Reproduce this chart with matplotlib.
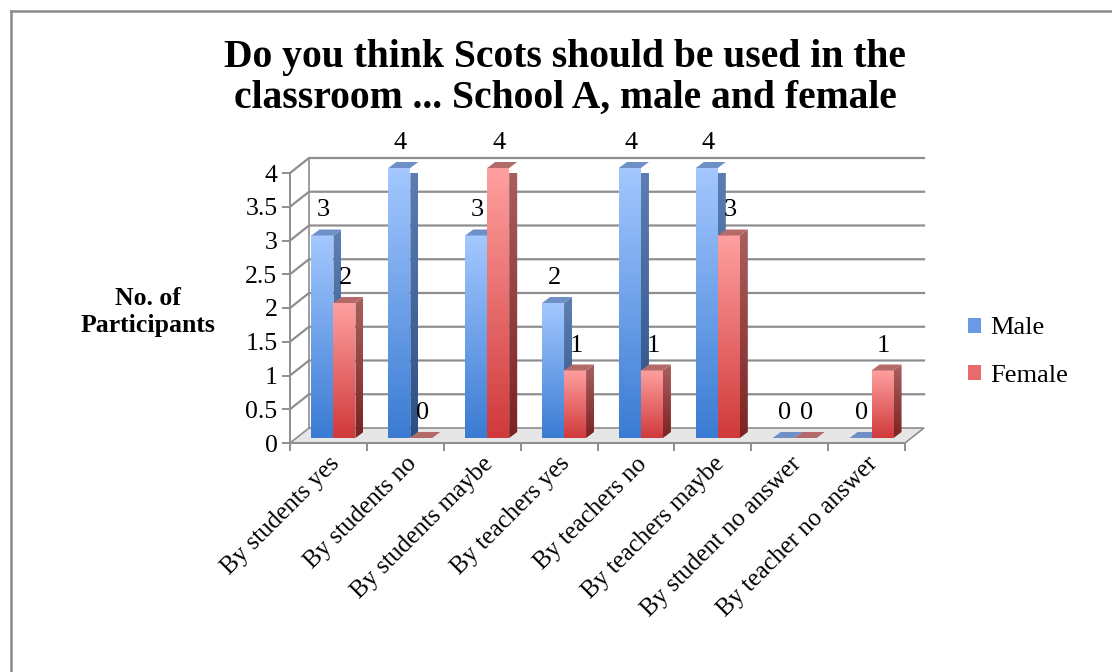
import numpy as np
import matplotlib
matplotlib.use("Agg")
import matplotlib.pyplot as plt
from matplotlib.colors import LinearSegmentedColormap
from matplotlib.patches import Polygon, Patch

plt.rcParams['font.family'] = ['Liberation Serif', 'DejaVu Serif']

categories = ["By students yes", "By students no", "By students maybe",
              "By teachers yes", "By teachers no", "By teachers maybe",
              "By student no answer", "By teacher no answer"]
male = [3, 4, 3, 2, 4, 4, 0, 0]
female = [2, 0, 4, 1, 1, 3, 0, 1]
title = "Do you think Scots should be used in the\nclassroom ... School A, male and female"

W, H = 1112, 672
fig = plt.figure(figsize=(W / 100, H / 100), dpi=100)

# plot area in pixels: front floor from x=290..905, y=0 at 443, y=4 at 173
L, R, B0, T4 = 290, 905, 443, 173
ax = fig.add_axes([L / W, 1 - B0 / H, (R - L) / W, (B0 - T4) / H])
n = len(categories)
ymax = 4
px_x = n / (R - L)        # data units per pixel
px_y = ymax / (B0 - T4)

grid_c = "#8e8e8e"
# depth of the back wall and of each bar, in pixels
wall_dx, wall_dy = 19 * px_x, 15 * px_y
front_dx, front_dy = 5 * px_x, 5 * px_y
bar_dx, bar_dy = 8 * px_x, 6 * px_y
bar_w = 22 * px_x

# floor
floor = Polygon([(0, 0), (n, 0), (n + wall_dx, wall_dy), (wall_dx, wall_dy)],
                closed=True, facecolor="#e6e6e6", edgecolor=grid_c, lw=1.2,
                clip_on=False, zorder=1)
ax.add_patch(floor)

# back wall grid lines
for y in np.arange(0.5, ymax + 0.01, 0.5):
    ax.plot([0, wall_dx, n + wall_dx], [y, y + wall_dy, y + wall_dy],
            color=grid_c, lw=1.6, clip_on=False, zorder=1)
ax.plot([wall_dx, wall_dx], [wall_dy, ymax + wall_dy], color=grid_c, lw=1.2,
        clip_on=False, zorder=1)


def grad(c_bot, c_top):
    return LinearSegmentedColormap.from_list("g", [c_bot, c_top])


g = np.linspace(0, 1, 256).reshape(-1, 1)
styles = {
    "blue": dict(front=grad("#3a7bd3", "#a4c8ff"), side=grad("#2a4f86", "#5e80b4"), top="#6f90c6"),
    "red": dict(front=grad("#d0393a", "#ffa0a0"), side=grad("#7c2222", "#aa6060"), top="#b56a6a"),
}


def draw_bar(x0, v, st):
    x1 = x0 + bar_w
    y0 = front_dy
    y1 = front_dy + v
    if v > 0:
        ax.imshow(g, origin="lower", aspect="auto", cmap=st["front"],
                  extent=(x0, x1, y0, y1), zorder=3, clip_on=False)
        side = Polygon([(x1, y0), (x1, y1), (x1 + bar_dx, y1 + bar_dy), (x1 + bar_dx, y0 + bar_dy)],
                       closed=True, facecolor="none", edgecolor="none", transform=ax.transData)
        ax.add_patch(side)
        im2 = ax.imshow(g, origin="lower", aspect="auto", cmap=st["side"],
                        extent=(x1, x1 + bar_dx, y0, y1 + bar_dy), zorder=3)
        im2.set_clip_path(side)
    ax.add_patch(Polygon([(x0, y1), (x1, y1), (x1 + bar_dx, y1 + bar_dy), (x0 + bar_dx, y1 + bar_dy)],
                         closed=True, facecolor=st["top"], edgecolor="none", zorder=3,
                         clip_on=False))


label_kw = dict(textcoords="offset pixels", ha="center", va="center",
                fontsize=19, zorder=5, annotation_clip=False)
for i in range(n):
    xb = i + 0.5 - bar_w + front_dx
    xr = i + 0.5 + front_dx
    draw_bar(xb, male[i], styles["blue"])
    draw_bar(xr, female[i], styles["red"])
    ax.annotate(str(male[i]), (xb + bar_w / 2, male[i] + front_dy), xytext=(1, 25), **label_kw)
    ax.annotate(str(female[i]), (xr + bar_w / 2, female[i] + front_dy), xytext=(1, 25), **label_kw)

ax.set_xlim(0, n)
ax.set_ylim(0, ymax)
for s in ["top", "right"]:
    ax.spines[s].set_visible(False)
for s in ["left", "bottom"]:
    ax.spines[s].set_color(grid_c)
    ax.spines[s].set_linewidth(1.4)
    ax.spines[s].set_zorder(2)

ax.set_yticks(np.arange(0, ymax + 0.01, 0.5))
ax.set_yticklabels([f"{v:g}" for v in np.arange(0, ymax + 0.01, 0.5)], fontsize=18.5)
ax.set_xticks(np.arange(0, n + 1))
ax.set_xticklabels([])
ax.set_xticks(np.arange(n) + 0.5, minor=True)
ax.set_xticklabels(categories, minor=True, rotation=45, ha="right",
                   rotation_mode="anchor", fontsize=18)
ax.tick_params(axis="both", which="major", color=grid_c, width=1.4, length=6)
ax.tick_params(axis="y", pad=3)
ax.tick_params(axis="x", which="minor", length=0, pad=7)

fig.text(565 / W, 1 - 78 / H, title, ha="center", va="center", fontsize=28.5,
         fontweight="bold", linespacing=1.14)
fig.text(148 / W, 1 - 312 / H, "No. of\nParticipants", ha="center", va="center",
         fontsize=18.5, fontweight="bold", linespacing=1.25)

handles = [Patch(facecolor="#6a9ae6", edgecolor="none"),
           Patch(facecolor="#e86a6a", edgecolor="none")]
fig.legend(handles, ["Male", "Female"], loc="center left",
           bbox_to_anchor=(944 / W, 1 - 352 / H), frameon=False, fontsize=19,
           handlelength=0.5, handleheight=0.5, handletextpad=0.35,
           labelspacing=0.95)

# chart frame
fig.add_artist(plt.Line2D([11 / W, 11 / W], [0, 1 - 11 / H], color="#8a8a8a", lw=1.8))
fig.add_artist(plt.Line2D([11 / W, 1], [1 - 11 / H, 1 - 11 / H], color="#8a8a8a", lw=1.8))

fig.savefig("out.png", dpi=100)
